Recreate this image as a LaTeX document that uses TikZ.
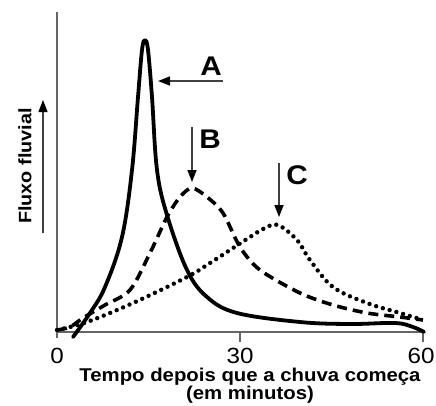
\documentclass[tikz,border=0pt]{standalone}
\usepackage{fontspec}
\setmainfont[FakeStretch=1.1]{Liberation Sans}
\usetikzlibrary{arrows.meta}
\tikzset{
  axis/.style={draw=black!60, line width=1.6pt},
  flow/.style={line width=3.8pt, line join=round, line cap=round},
  pointer/.style={line width=1.4pt, draw=black!75, -{Triangle[length=12pt,width=9pt,black]}},
  letter/.style={font=\fontsize{27}{27}\selectfont\bfseries, inner sep=0pt},
  ticklabel/.style={font=\fontsize{22}{22}\selectfont, inner sep=0pt},
}

\begin{document}
\begin{tikzpicture}[x=1pt, y=-1pt]
    \useasboundingbox (0,0) rectangle (436,405);
    \coordinate (origin) at (57,332);
    \coordinate (ytop) at (57,12);
    \coordinate (xend) at (425,332);
    \draw[axis] (ytop) -- (57,338) (origin) -- (xend);
    \draw[axis] (240,332) -- (240,342) (423,332) -- (423,342);
    \node[ticklabel] (t0) at (57,356) {0};
    \node[ticklabel] (t30) at (240,356) {30};
    \node[ticklabel] (t60) at (421,356) {60};
    \node[font=\fontsize{18.5}{17}\selectfont\bfseries, align=center, inner sep=0pt] (xlabel) at (250,386)
        {Tempo depois que a chuva começa\\(em minutos)};
    \node[font=\fontsize{18}{18}\selectfont\bfseries, rotate=90, inner sep=0pt] (ylabel) at (25,166) {Fluxo fluvial};
    \coordinate (ylow) at (43,233);
    \coordinate (yhigh) at (43,100);
    \draw[pointer] (ylow) -- (yhigh);

    \draw[flow] plot[smooth, tension=0.6] coordinates {(73,337) (90,313) (105,287) (122,237) (132,170)
        (138,97) (142,50) (145,40) (148,50) (152,97) (157,170) (167,215) (187,270) (207,297)
        (237,313) (300,322) (350,324) (395,323) (413,327) (424,332)};
    \draw[flow, line width=3.6pt, line cap=butt, dash pattern=on 10pt off 6pt] plot[smooth, tension=0.5] coordinates {(57,330) (70,327)
        (83,318) (105,305) (130,290) (150,253) (167,217) (180,197) (192,188) (207,197) (223,213)
        (240,247) (260,270) (300,293) (333,305) (367,313) (400,317) (423,320)};
    \draw[flow, line width=4.4pt, dash pattern=on 0pt off 7pt] plot[smooth, tension=0.6] coordinates {(57,330)
        (87,322) (133,303) (187,277) (210,263) (250,237) (265,228) (278,225) (297,240) (310,260)
        (333,287) (367,303) (400,313) (423,320)};

    \node[letter] (A) at (211,66) {A};
    \coordinate (tailA) at (223,81);
    \coordinate (tipA) at (158,81);
    \draw[pointer] (tailA) -- (tipA);
    \node[letter] (B) at (210,139) {B};
    \coordinate (tailB) at (192,127);
    \coordinate (tipB) at (192,182);
    \draw[pointer] (tailB) -- (tipB);
    \node[letter] (C) at (297,175) {C};
    \coordinate (tailC) at (279,163);
    \coordinate (tipC) at (279,217);
    \draw[pointer] (tailC) -- (tipC);
\end{tikzpicture}
\end{document}
